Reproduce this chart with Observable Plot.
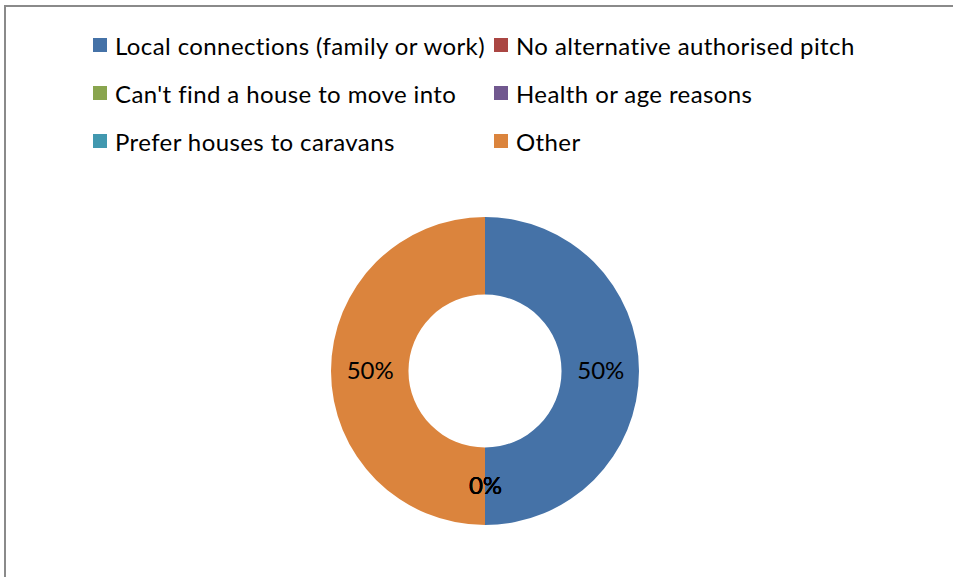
<!DOCTYPE html>
<html><head><meta charset="utf-8">
<script src="https://cdn.jsdelivr.net/npm/d3@7"></script>
<script src="https://cdn.jsdelivr.net/npm/@observablehq/plot@0.6"></script>
<style>
html,body{margin:0;padding:0;overflow:hidden;background:#fff;}
#wrap{position:relative;width:953px;height:577px;overflow:hidden;font-family:Lato,"Open Sans",sans-serif;}
#frame{position:absolute;left:4px;top:5px;width:1200px;height:1200px;border:2px solid #8a8a8a;box-sizing:border-box;}
#legend{position:absolute;left:93px;top:21px;display:grid;grid-template-columns:401px auto;grid-auto-rows:48px;}
.item{display:flex;align-items:center;font-size:24px;letter-spacing:0.4px;color:#000;white-space:nowrap;}
.sw{width:14px;height:14px;margin-right:8px;flex:none;}
#chart{position:absolute;left:0;top:0;}
</style></head>
<body>
<div id="wrap"><div id="frame"></div><div id="legend"></div><div id="chart"></div></div>
<script>
const categories = ["Local connections (family or work)", "No alternative authorised pitch", "Can't find a house to move into", "Health or age reasons", "Prefer houses to caravans", "Other"];
const values = [50, 0, 0, 0, 0, 50];
const colors = ["#4572A7", "#AA4643", "#89A54E", "#71588F", "#4198AF", "#DB843D"];

const innerRatio = 0.497;
const labelRatio = (1 + innerRatio) / 2;
const total = d3.sum(values);
const data = categories.map((c, i) => ({category: c, value: values[i]}));
const pie = d3.pie().value(d => d.value).sort(null)(data);
const arcs = pie.map(p => {
  const a = (p.startAngle + p.endAngle) / 2;
  return {
    ...p,
    category: p.data.category,
    label: Math.round(p.value / total * 100) + "%",
    cx: Math.sin(a) * labelRatio,
    cy: -Math.cos(a) * labelRatio
  };
});

const color = Plot.scale({color: {domain: categories, range: colors}});

// legend
const legend = document.getElementById("legend");
categories.forEach(c => {
  const it = document.createElement("div");
  it.className = "item";
  const sw = document.createElement("span");
  sw.className = "sw";
  sw.style.background = color.apply(c);
  it.appendChild(sw);
  it.appendChild(document.createTextNode(c));
  legend.appendChild(it);
});

function donut(index, scales) {
  const g = d3.create("svg:g");
  const cx = scales.x(0), cy = scales.y(0);
  const R = scales.x(1) - scales.x(0);
  const arc = d3.arc().innerRadius(R * innerRatio).outerRadius(R);
  g.selectAll("path").data(arcs).join("path")
    .attr("transform", `translate(${cx},${cy})`)
    .attr("d", arc)
    .attr("fill", d => color.apply(d.category));
  return g.node();
}

const chart = Plot.plot({
  width: 953,
  height: 577,
  margin: 0,
  style: {background: "transparent"},
  x: {domain: [-1, 1], range: [331, 639], axis: null},
  y: {domain: [-1, 1], range: [217, 525], axis: null},
  marks: [
    donut,
    Plot.text(arcs, {x: "cx", y: "cy", text: "label", fontSize: 24, fill: "#000", fontFamily: "Lato, sans-serif"})
  ]
});
document.getElementById("chart").appendChild(chart);
</script>
</body></html>
